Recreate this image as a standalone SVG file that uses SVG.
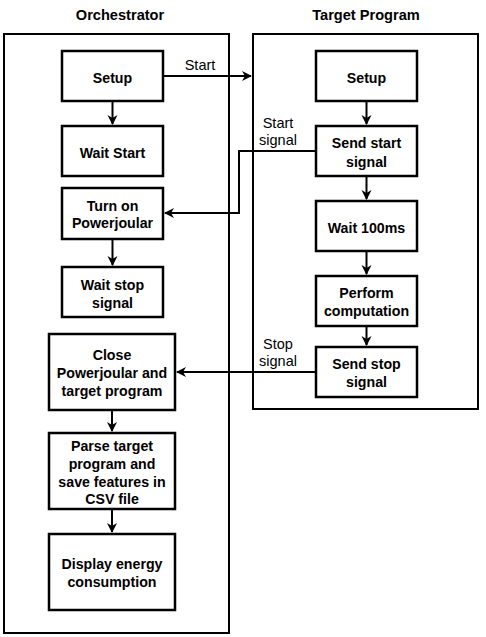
<svg xmlns="http://www.w3.org/2000/svg" width="486" height="637" viewBox="0 0 486 637">
<defs>
<style>
.box{fill:#fff;stroke:#000;stroke-width:2.5}
.outer{fill:none;stroke:#000;stroke-width:2}
.t{font-family:"Liberation Sans",Arial,sans-serif;font-size:14.2px;font-weight:bold;text-anchor:middle;fill:#000}
.h{font-family:"Liberation Sans",Arial,sans-serif;font-size:14.6px;font-weight:bold;text-anchor:middle;fill:#000}
.l{font-family:"Liberation Sans",Arial,sans-serif;font-size:14.5px;text-anchor:middle;fill:#000}
.c{fill:none;stroke:#000;stroke-width:2}
</style>
<marker id="ah" markerWidth="12" markerHeight="12" refX="10" refY="6" orient="auto" markerUnits="userSpaceOnUse">
<path d="M1,1 L11,6 L1,11 L4,6 Z" fill="#000"/>
</marker>
</defs>
<rect width="486" height="637" fill="#fff"/>
<text class="h" x="120" y="20">Orchestrator</text>
<text class="h" x="366" y="20">Target Program</text>
<rect class="outer" x="4" y="34" width="225" height="599"/>
<rect class="outer" x="253" y="34" width="225" height="375"/>
<g id="connectors">
<path class="c" d="M163,76 H251" marker-end="url(#ah)"/>
<path class="c" d="M112.5,101 V124" marker-end="url(#ah)"/>
<path class="c" d="M112.5,239 V265" marker-end="url(#ah)"/>
<path class="c" d="M112,410 V431" marker-end="url(#ah)"/>
<path class="c" d="M112,509 V532" marker-end="url(#ah)"/>
<path class="c" d="M366.5,101 V124" marker-end="url(#ah)"/>
<path class="c" d="M366.5,176 V199" marker-end="url(#ah)"/>
<path class="c" d="M366.5,251 V274" marker-end="url(#ah)"/>
<path class="c" d="M366.5,326 V345" marker-end="url(#ah)"/>
<path class="c" d="M316,151 H239 V213 H165" marker-end="url(#ah)"/>
<path class="c" d="M316,372 H177" marker-end="url(#ah)"/>
<text class="l" x="200" y="70">Start</text>
<text class="l" x="278" y="128">Start</text>
<text class="l" x="278" y="145">signal</text>
<text class="l" x="278" y="349">Stop</text>
<text class="l" x="278" y="366">signal</text>
</g>
<g id="o-setup"><rect class="box" x="62" y="51" width="101" height="50"/><text class="t" x="112.5" y="83">Setup</text></g>
<g id="o-waitstart"><rect class="box" x="62" y="126" width="101" height="50"/><text class="t" x="112.5" y="158">Wait Start</text></g>
<g id="o-turnon"><rect class="box" x="62" y="188" width="101" height="51"/><text class="t" x="112.5" y="211">Turn on</text><text class="t" x="112.5" y="228">Powerjoular</text></g>
<g id="o-waitstop"><rect class="box" x="62" y="267" width="101" height="50"/><text class="t" x="112.5" y="290">Wait stop</text><text class="t" x="112.5" y="308">signal</text></g>
<g id="o-close"><rect class="box" x="49" y="334" width="126" height="76"/><text class="t" x="112" y="360">Close</text><text class="t" x="112" y="378">Powerjoular and</text><text class="t" x="112" y="396">target program</text></g>
<g id="o-parse"><rect class="box" x="49" y="433" width="126" height="76"/><text class="t" x="112" y="451">Parse target</text><text class="t" x="112" y="469">program and</text><text class="t" x="112" y="487">save features in</text><text class="t" x="112" y="504">CSV file</text></g>
<g id="o-display"><rect class="box" x="49" y="534" width="126" height="76"/><text class="t" x="112" y="569">Display energy</text><text class="t" x="112" y="587">consumption</text></g>
<g id="t-setup"><rect class="box" x="316" y="51" width="101" height="50"/><text class="t" x="366.5" y="83">Setup</text></g>
<g id="t-sendstart"><rect class="box" x="316" y="126" width="101" height="50"/><text class="t" x="366.5" y="148">Send start</text><text class="t" x="366.5" y="167">signal</text></g>
<g id="t-wait100"><rect class="box" x="316" y="201" width="101" height="50"/><text class="t" x="366.5" y="233">Wait 100ms</text></g>
<g id="t-perform"><rect class="box" x="316" y="276" width="101" height="50"/><text class="t" x="366.5" y="298">Perform</text><text class="t" x="366.5" y="316">computation</text></g>
<g id="t-sendstop"><rect class="box" x="316" y="347" width="101" height="50"/><text class="t" x="366.5" y="369">Send stop</text><text class="t" x="366.5" y="387">signal</text></g>
</svg>
